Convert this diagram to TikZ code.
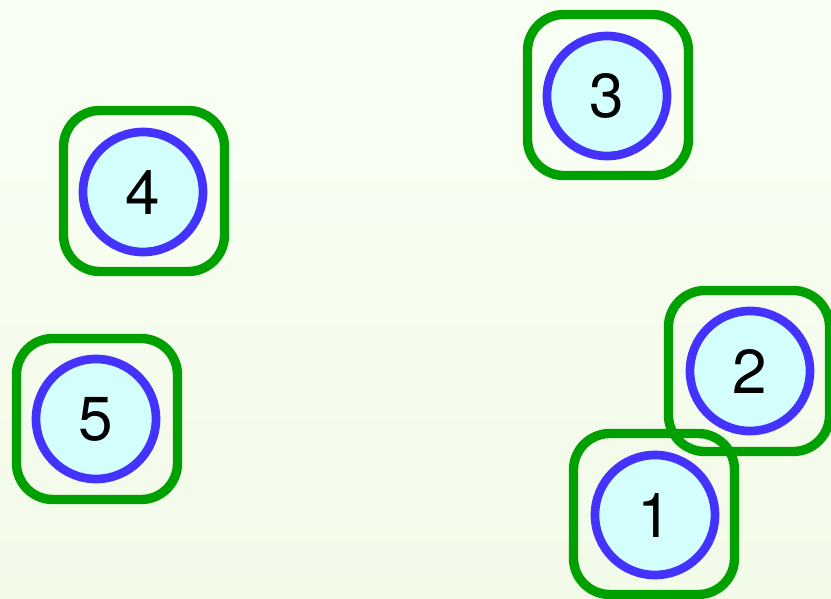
\documentclass[tikz,border=0pt]{standalone}
\usepackage{fontspec}
\setsansfont{TeX Gyre Heros}
\usetikzlibrary{backgrounds}
\definecolor{ringblue}{HTML}{4433FF}
\definecolor{boxgreen}{HTML}{00A000}
\definecolor{corefill}{HTML}{D4FFFF}
\definecolor{paneltop}{HTML}{FAFFF4}
\definecolor{panelbot}{HTML}{F2FAE8}

\begin{document}
\begin{tikzpicture}[
    x=0.03cm, y=-0.03cm,
    font=\sffamily,
    % ── shared styles ──
    cell box/.style={draw=boxgreen, line width=8pt, rounded corners=31pt,
        minimum size=4.83cm, inner sep=0pt},
    core/.style={circle, draw=ringblue, fill=corefill, line width=7.4pt,
        minimum size=3.6cm, inner sep=0pt,
        font=\fontsize{53}{64}\selectfont\sffamily},
]

% ══════════════════════════════════════════════════════════════════════
%  CANVAS
% ══════════════════════════════════════════════════════════════════════
\useasboundingbox (0,0) rectangle (831,599);
\shade[top color=paneltop, bottom color=panelbot] (0,0) rectangle (831,599);

% ══════════════════════════════════════════════════════════════════════
%  CELLS (green frame + numbered core)
% ══════════════════════════════════════════════════════════════════════
\node[cell box] (box2) at (749,371) {};
\node[core]     (n2)   at (750,371) {2};

\node[cell box] (box1) at (654,514) {};
\node[core]     (n1)   at (655,515) {1};

\node[cell box] (box3) at (608,95) {};
\node[core]     (n3)   at (607,96) {3};

\node[cell box] (box4) at (144,191) {};
\node[core]     (n4)   at (143,192) {4};

\node[cell box] (box5) at (97,419) {};
\node[core]     (n5)   at (96,419) {5};

\end{tikzpicture}
\end{document}
